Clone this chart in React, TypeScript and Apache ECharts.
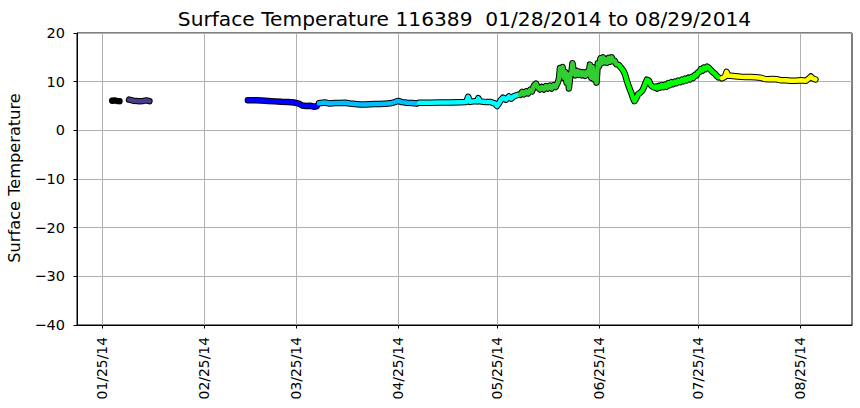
import React, { useEffect, useRef } from 'react';
import * as echarts from 'echarts';

const TITLE = 'Surface Temperature 116389  01/28/2014 to 08/29/2014';
const Y_LABEL = 'Surface Temperature';

// x values are day-of-year 2014 (Jan 1 = 1)
const TICK_DAYS = [25, 56, 84, 115, 145, 176, 206, 237];
const TICK_LABELS = ['01/25/14', '02/25/14', '03/25/14', '04/25/14', '05/25/14', '06/25/14', '07/25/14', '08/25/14'];

const MONTH_NAMES = ['Jan', 'Feb', 'Mar', 'Apr', 'May', 'Jun', 'Jul', 'Aug'];
const MONTH_COLORS = ['#000000', '#483D8B', '#0000FF', '#00BFFF', '#00FFFF', '#32CD32', '#00FF00', '#FFFF00'];

const jan: [number, number][] = [[28.1, 6.1], [28.8, 6.15], [29.5, 6.05], [30.3, 6.0]];

const feb: [number, number][] = [[33.2, 6.3], [34.5, 6.1], [36.0, 6.0], [37.5, 6.05], [38.5, 6.15], [39.4, 6.0]];

const mar: [number, number][] = [
  [69.3, 6.2], [71.5, 6.2], [73.5, 6.15], [75.5, 6.05], [77.5, 5.95], [79.5, 5.85], [81.5, 5.8],
  [83.5, 5.7], [84.8, 5.5], [85.8, 5.1], [87.0, 5.0], [88.2, 5.05], [89.3, 4.85], [90.2, 4.95],
];

const apr: [number, number][] = [
  [90.9, 5.55], [92.7, 5.72], [94.2, 5.5], [95.8, 5.6], [97.3, 5.6], [98.8, 5.66], [100.3, 5.5],
  [101.8, 5.4], [103.4, 5.3], [104.9, 5.3], [106.4, 5.35], [107.9, 5.4], [109.4, 5.4], [111.0, 5.47],
  [112.5, 5.55], [114.0, 5.8], [114.9, 6.05], [116.1, 5.8], [117.6, 5.66], [119.2, 5.6], [120.5, 5.5],
];

const may: [number, number][] = [
  [121.3, 5.65], [124.6, 5.68], [127.7, 5.72], [130.7, 5.72], [133.7, 5.76], [135.6, 5.8], [136.2, 6.9],
  [136.8, 5.85], [138.3, 6.0], [138.9, 5.95], [139.3, 6.6], [139.8, 5.95], [141.6, 5.8], [143.1, 5.8],
  [144.4, 5.5], [145.0, 5.0], [145.6, 5.6], [146.1, 6.2], [146.8, 6.7], [147.7, 6.3], [148.6, 6.95],
  [149.3, 6.5], [150.2, 7.05], [151.3, 7.3],
];

const jun: [number, number][] = [
  [152.0, 7.3], [152.6, 7.9], [153.2, 7.4], [153.8, 8.0], [154.4, 7.6], [155.0, 8.3], [155.6, 8.0],
  [156.2, 9.2], [156.8, 9.6], [157.4, 8.8], [158.0, 8.4], [158.6, 8.9], [159.2, 8.4], [159.8, 9.1],
  [160.4, 8.6], [161.0, 9.2], [161.6, 8.6], [162.2, 9.3], [162.8, 8.9], [163.4, 9.8], [163.8, 10.6],
  [164.1, 12.8], [164.5, 11.5], [164.9, 13.0], [165.3, 10.8], [165.7, 12.0], [166.1, 9.8], [166.5, 11.5],
  [166.8, 8.6], [167.2, 11.0], [167.6, 12.0], [167.9, 13.8], [168.3, 12.0], [168.8, 11.3], [169.3, 12.2],
  [169.8, 11.4], [170.3, 12.0], [170.8, 11.3], [171.3, 11.9], [171.8, 11.2], [172.3, 12.0], [172.8, 11.5],
  [173.2, 13.5], [173.6, 10.8], [174.0, 13.0], [174.4, 10.5], [174.8, 12.0], [175.2, 9.8], [175.6, 13.8],
  [176.0, 13.2], [176.4, 14.8], [176.8, 13.8], [177.2, 15.0], [177.6, 14.0], [178.0, 14.6], [178.4, 13.9],
  [178.9, 14.9], [179.3, 14.1], [179.8, 15.0], [180.2, 14.2], [180.7, 14.3], [181.2, 13.6],
];

const jul: [number, number][] = [
  [182.0, 13.4], [182.6, 12.9], [183.2, 12.4], [183.8, 11.6], [184.4, 10.2], [185.0, 9.0], [185.7, 7.8],
  [186.3, 6.6], [186.7, 6.0], [187.2, 6.5], [187.8, 7.4], [188.4, 7.7], [188.9, 8.0], [189.3, 8.4],
  [189.9, 9.4], [190.5, 10.4], [191.1, 10.2], [191.7, 9.3], [192.2, 9.0], [192.7, 8.8], [193.2, 9.0],
  [193.6, 8.6], [194.1, 9.1], [194.5, 8.8], [195.0, 9.3], [195.5, 8.9], [196.0, 9.4], [196.5, 9.0],
  [197.0, 9.7], [197.5, 9.3], [198.0, 9.9], [198.5, 9.5], [199.0, 10.0], [199.5, 9.7], [200.0, 10.2],
  [200.6, 9.9], [201.1, 10.4], [201.6, 10.1], [202.1, 10.6], [202.6, 10.3], [203.1, 10.8], [203.6, 10.5],
  [204.1, 11.0], [204.6, 10.8], [205.1, 11.4], [205.6, 11.3], [206.0, 11.9], [206.5, 12.0], [206.9, 12.6],
  [207.4, 12.3], [207.8, 12.9], [208.3, 12.6], [208.8, 13.1], [209.4, 12.8], [209.9, 12.4], [210.3, 12.1],
  [210.8, 11.8], [211.2, 11.6], [211.7, 11.2], [212.2, 10.9],
];

const aug: [number, number][] = [
  [213.3, 10.7], [214.2, 11.0], [214.7, 12.0], [215.2, 11.2], [215.9, 11.2], [217.4, 11.1], [219.0, 11.0],
  [220.5, 10.95], [222.0, 10.95], [223.5, 10.9], [225.1, 10.8], [226.3, 10.55], [227.5, 10.5],
  [228.7, 10.55], [229.9, 10.5], [231.1, 10.3], [232.7, 10.3], [234.2, 10.2], [235.7, 10.2],
  [237.2, 10.3], [238.8, 10.2], [239.7, 10.65], [240.3, 11.05], [240.9, 10.65], [241.7, 10.45],
];

const MONTH_DATA = [jan, feb, mar, apr, may, jun, jul, aug];

const FONT = '"DejaVu Sans", "Liberation Sans", sans-serif';

export default function App() {
  const ref = useRef<HTMLDivElement>(null);

  useEffect(() => {
    if (!ref.current) return;
    const chart = echarts.init(ref.current, undefined, { renderer: 'svg' });

    const outlineSeries = MONTH_DATA.map((d, i) => ({
      name: MONTH_NAMES[i] + ' edge',
      type: 'line',
      data: d,
      showSymbol: false,
      symbol: 'none',
      silent: true,
      z: 3,
      lineStyle: { color: '#000000', width: 6.5, cap: 'round', join: 'round' },
    }));
    const colorSeries = MONTH_DATA.map((d, i) => ({
      name: MONTH_NAMES[i],
      type: 'line',
      data: d,
      showSymbol: false,
      symbol: 'none',
      silent: true,
      z: 4,
      lineStyle: { color: MONTH_COLORS[i], width: 4.5, cap: 'round', join: 'round' },
    }));

    const option: any = {
      animation: false,
      backgroundColor: '#ffffff',
      textStyle: { fontFamily: FONT },
      grid: {
        left: 77, right: 8, top: 33, bottom: 83,
        show: true, borderColor: '#000000', borderWidth: 1, backgroundColor: 'transparent',
        containLabel: false,
      },
      xAxis: {
        type: 'value',
        min: 17.4,
        max: 252.8,
        axisLine: { show: true, onZero: false, lineStyle: { color: '#000000', width: 1 } },
        axisTick: { show: true, inside: false, length: 3.5, customValues: TICK_DAYS, lineStyle: { color: '#000000', width: 1 } },
        axisLabel: {
          customValues: TICK_DAYS,
          rotate: 90,
          margin: 12,
          color: '#000000',
          fontSize: 13.9,
          fontFamily: FONT,
          formatter: (v: number) => {
            const idx = TICK_DAYS.indexOf(Math.round(v));
            return idx >= 0 ? TICK_LABELS[idx] : '';
          },
        },
        splitLine: { show: true, lineStyle: { color: '#b0b0b0', width: 1 } },
      },
      yAxis: {
        type: 'value',
        min: -40,
        max: 20,
        interval: 10,
        axisLine: { show: true, onZero: false, lineStyle: { color: '#000000', width: 1 } },
        axisTick: { show: true, inside: false, length: 3.5, lineStyle: { color: '#000000', width: 1 } },
        axisLabel: {
          margin: 12,
          color: '#000000',
          fontSize: 14.5,
          fontFamily: FONT,
          formatter: (v: number) => String(v).replace('-', '\u2212'),
        },
        splitLine: { show: true, lineStyle: { color: '#b0b0b0', width: 1 } },
      },
      graphic: [
        {
          type: 'text',
          x: 464.5,
          y: 19.2,
          silent: true,
          style: {
            text: TITLE,
            font: '20.2px ' + FONT,
            fill: '#000000',
            align: 'center',
            verticalAlign: 'middle',
          },
        },
        {
          type: 'text',
          x: 14,
          y: 178,
          rotation: Math.PI / 2,
          silent: true,
          style: {
            text: Y_LABEL,
            font: '16.2px ' + FONT,
            fill: '#000000',
            align: 'center',
            verticalAlign: 'middle',
          },
        },
      ],
      series: [...outlineSeries, ...colorSeries],
    };

    chart.setOption(option);
    return () => {
      chart.dispose();
    };
  }, []);

  return (
    <div
      ref={ref}
      style={{ position: 'fixed', left: 0, top: 0, width: 860, height: 408, background: '#ffffff' }}
    />
  );
}
